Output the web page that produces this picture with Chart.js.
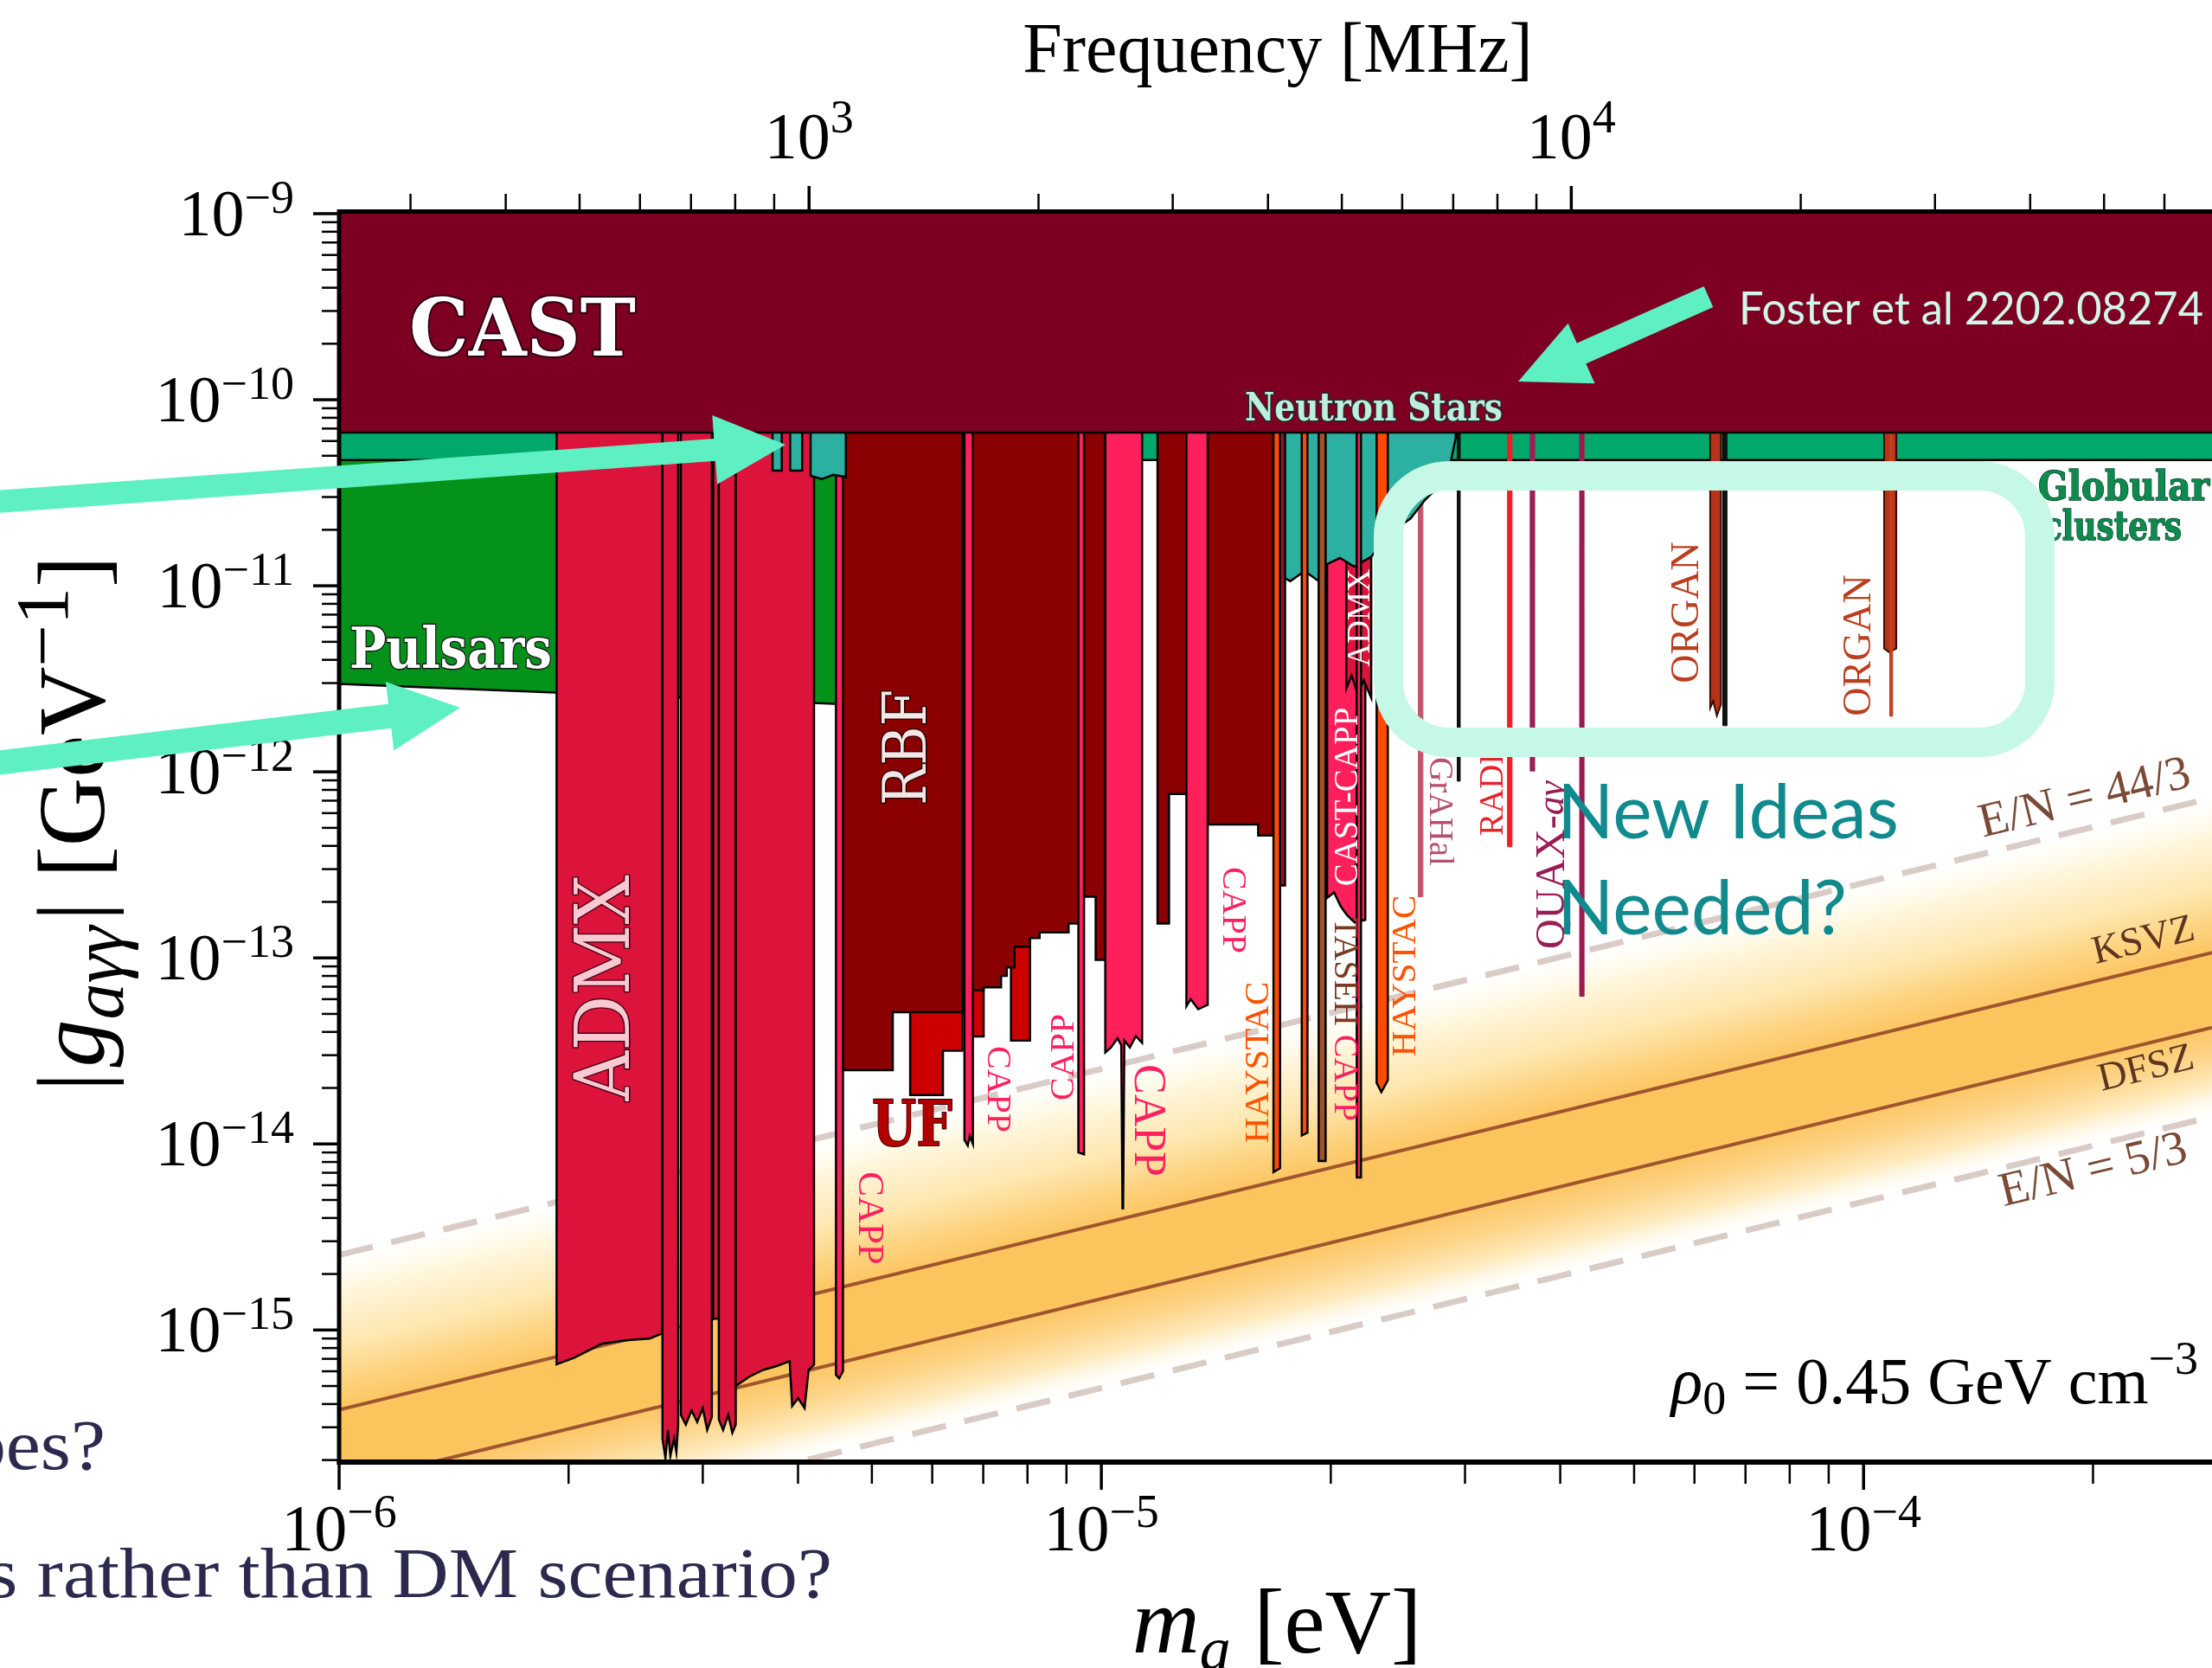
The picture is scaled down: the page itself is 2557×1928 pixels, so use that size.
<!DOCTYPE html>
<html>
<head>
<meta charset="utf-8">
<script src="https://cdn.jsdelivr.net/npm/chart.js@4.4.1/dist/chart.umd.min.js"></script>
<style>
  html, body { margin: 0; padding: 0; background: #fff; overflow: hidden; }
  #wrap { width: 2557px; height: 1928px; position: relative; }
</style>
</head>
<body>
<div id="wrap"><canvas id="limits" width="2557" height="1928"></canvas></div>
<script>
// axis ranges and ticks
const TOP = 1e-9;
const massRange = [1e-6, 2.865e-4];          // eV
const couplingRange = [1.95e-16, 1e-9];      // GeV^-1
const mhzPerEV = 2.418e8;                    // frequency axis conversion
const massTicks = [1e-6, 1e-5, 1e-4];
const massExp = ['\u22126', '\u22125', '\u22124'];
const couplingTicks = [1e-9, 1e-10, 1e-11, 1e-12, 1e-13, 1e-14, 1e-15];
const couplingExp = ['\u22129', '\u221210', '\u221211', '\u221212', '\u221213', '\u221214', '\u221215'];
const freqTicks = [1e3, 1e4];
const freqExp = ['3', '4'];

// QCD axion model lines [mass, coupling]
const ksvzLine = [[1e-6, 3.72e-16], [2.865e-4, 1.067e-13]];
const dfszLine = [[1e-6, 1.47e-16], [2.865e-4, 4.22e-14]];
const en443Line = [[1e-6, 2.53e-15], [2.865e-4, 7.24e-13]];
const en53Line = [[1e-6, 4.88e-17], [2.865e-4, 1.40e-14]];

// astrophysical bounds
const castLimit = [[1e-6, 6.67e-11], [2.865e-4, 6.67e-11]];
const globularLimit = [[1e-6, 4.74e-11], [2.865e-4, 4.74e-11]];
const pulsarLimit = [[1e-6, 2.97e-12], [4.6e-6, 2.31e-12]];

// ADMX
const admxA = [[1.929e-6, 6.55e-16], [2.035e-6, 7.10e-16], [2.21e-6, 8.43e-16], [2.376e-6, 8.81e-16], [2.555e-6, 9.0e-16], [2.656e-6, 9.59e-16]];
const admxB = [[2.656e-6, 2.6e-16], [2.68e-6, 2.05e-16], [2.70e-6, 2.9e-16], [2.72e-6, 2.1e-16], [2.75e-6, 2.6e-16], [2.77e-6, 2.2e-16], [2.785e-6, 3.1e-16]];
const admxC = [[2.808e-6, 3.5e-16], [2.85e-6, 3.1e-16], [2.9e-6, 3.7e-16], [2.95e-6, 3.2e-16], [3.0e-6, 3.8e-16], [3.04e-6, 2.9e-16], [3.083e-6, 3.4e-16]];
const admxD = [[3.096e-6, 1.15e-15], [3.149e-6, 1.15e-15]];
const admxE = [[3.149e-6, 3.3e-16], [3.19e-6, 2.9e-16], [3.24e-6, 3.5e-16], [3.28e-6, 2.8e-16], [3.314e-6, 3.1e-16]];
const admxF = [[3.314e-6, 5.0e-16], [3.45e-6, 5.6e-16], [3.6e-6, 6.1e-16], [3.75e-6, 6.4e-16], [3.9e-6, 6.8e-16], [3.93e-6, 3.9e-16], [4.0e-6, 4.3e-16], [4.08e-6, 3.8e-16], [4.13e-6, 6.1e-16], [4.198e-6, 6.5e-16]];
const admxHigh = [[2.096e-5, 2.8e-12], [2.13e-5, 3.3e-12], [2.17e-5, 2.6e-12], [2.21e-5, 3.1e-12], [2.26e-5, 2.5e-12]];

// RBF and UF, as [m_start, m_end, g] steps
const rbfA = [[4.582e-6, 5.326e-6, 2.49e-14], [5.326e-6, 6.571e-6, 5.11e-14]];
const rbfB = [[6.784e-6, 7.008e-6, 6.71e-14], [7.008e-6, 7.387e-6, 6.95e-14], [7.387e-6, 7.514e-6, 8.0e-14], [7.514e-6, 7.692e-6, 8.88e-14],
              [7.692e-6, 8.062e-6, 1.15e-13], [8.062e-6, 8.299e-6, 1.28e-13], [8.299e-6, 9.058e-6, 1.37e-13], [9.058e-6, 9.328e-6, 1.53e-13]];
const rbfC = [[9.493e-6, 9.83e-6, 2.13e-13], [9.83e-6, 1.012e-5, 9.77e-14]];
const rbfD = [[1.185e-5, 1.227e-5, 1.53e-13], [1.227e-5, 1.293e-5, 7.61e-13]];
const rbfE = [[1.379e-5, 1.606e-5, 5.22e-13], [1.606e-5, 1.682e-5, 4.55e-13]];
const rbfF = [[1.716e-5, 1.742e-5, 2.45e-13]];
const ufA = [[5.613e-6, 6.197e-6, 1.83e-14], [6.197e-6, 6.571e-6, 3.17e-14]];
const ufB = [[6.784e-6, 7.008e-6, 3.78e-14]];
const ufC = [[7.611e-6, 8.062e-6, 3.6e-14]];

// CAPP
const cappA = [[4.486e-6, 5.74e-16], [4.53e-6, 5.5e-16], [4.582e-6, 6.0e-16]];
const cappB = [[6.613e-6, 1.05e-14], [6.68e-6, 9.8e-15], [6.72e-6, 1.1e-14], [6.784e-6, 1.0e-14]];
const cappC = [[9.33e-6, 9.0e-15], [9.49e-6, 8.8e-15]];
const cappD = [[1.012e-5, 3.1e-14], [1.03e-5, 3.3e-14], [1.05e-5, 3.7e-14], [1.062e-5, 3.4e-14], [1.066e-5, 4.5e-15], [1.068e-5, 4.5e-15],
               [1.072e-5, 3.6e-14], [1.09e-5, 3.3e-14], [1.11e-5, 3.8e-14], [1.131e-5, 3.5e-14]];
const cappE = [[1.293e-5, 5.5e-14], [1.31e-5, 6.0e-14], [1.34e-5, 5.3e-14], [1.379e-5, 5.6e-14]];
const castCapp = [[1.978e-5, 2.1e-13], [2.02e-5, 2.25e-13], [2.06e-5, 1.9e-13], [2.1e-5, 1.7e-13], [2.15e-5, 1.55e-13], [2.22e-5, 1.6e-13]];
const cappLine = [[2.163e-5, 6.6e-15], [2.191e-5, 6.6e-15]];

// HAYSTAC, TASEH
const haystacA = [[1.682e-5, 7.05e-15], [1.716e-5, 7.4e-15]];
const haystacB = [[1.832e-5, 1.11e-14], [1.864e-5, 1.15e-14]];
const haystacC = [[2.297e-5, 2.13e-14], [2.33e-5, 1.9e-14], [2.376e-5, 2.2e-14]];
const tasehLimit = [[1.928e-5, 8.1e-15], [1.969e-5, 8.1e-15]];

// neutron stars (Foster et al)
const nsA = [[3.704e-6, 4.16e-11], [3.808e-6, 4.16e-11]];
const nsB = [[3.906e-6, 4.16e-11], [4.05e-6, 4.16e-11]];
const nsC = [[4.155e-6, 3.9e-11], [4.3e-6, 3.75e-11], [4.45e-6, 3.95e-11], [4.622e-6, 3.85e-11]];
const nsD = [[1.711e-5, 1.14e-11], [1.77e-5, 1.06e-11], [1.848e-5, 1.20e-11], [1.928e-5, 1.06e-11], [1.978e-5, 1.31e-11], [2.056e-5, 1.41e-11],
             [2.146e-5, 1.27e-11], [2.259e-5, 1.43e-11], [2.337e-5, 1.71e-11], [2.438e-5, 2.03e-11], [2.545e-5, 2.30e-11],
             [2.656e-5, 2.88e-11], [2.771e-5, 3.43e-11], [2.855e-5, 4.09e-11], [2.917e-5, 6.22e-11]];

// high-mass narrow scans
const grahalLimit = [[2.606e-5, 2.13e-13], [2.642e-5, 2.13e-13]];
const darkLine = [[2.932e-5, 8.91e-13], [2.957e-5, 8.91e-13]];
const radesLimit = [[3.414e-5, 3.96e-13], [3.458e-5, 3.96e-13]];
const quaxA = [[3.656e-5, 1.01e-12], [3.703e-5, 1.01e-12]];
const quaxB = [[4.245e-5, 6.22e-14], [4.299e-5, 6.22e-14]];
const organA = [[6.292e-5, 2.2e-12], [6.35e-5, 2.4e-12], [6.42e-5, 2.0e-12], [6.50e-5, 2.3e-12]];
const organALine = [[6.54e-5, 1.77e-12], [6.62e-5, 1.77e-12]];
const organB = [[1.064e-4, 4.6e-12], [1.08e-4, 4.4e-12], [1.104e-4, 4.6e-12]];
const organBLine = [[1.083e-4, 1.99e-12], [1.092e-4, 1.99e-12]];

const toXY = a => a.map(([x, y]) => ({ x, y }));
const closeToTop = a => [[a[0][0], TOP], ...a, [a[a.length - 1][0], TOP]];
const steps = s => s.flatMap(([x0, x1, g]) => [[x0, g], [x1, g]]);

const layers = [];
function addRegion(points, fill, edge, width) {
  layers.push({
    data: toXY(closeToTop(points)),
    backgroundColor: fill,
    borderColor: edge || '#000',
    borderWidth: width == null ? 2.5 : width,
    fill: 'end'
  });
}
function addBound(points, fill) {
  layers.push({ data: toXY(points), backgroundColor: fill, borderColor: '#000', borderWidth: 2.5, fill: 'end' });
}
function addLine(points, color, width, dash) {
  layers.push({ data: toXY(points), borderColor: color, borderWidth: width, borderDash: dash || [], fill: false });
}

// orange QCD band, gradient across the band
function bandFill(context) {
  const chart = context.chart;
  const { ctx, chartArea, scales } = chart;
  if (!chartArea) return 'rgba(252,196,92,0.6)';
  const ax = scales.x.getPixelForValue(en443Line[0][0]), ay = scales.y.getPixelForValue(en443Line[0][1]);
  const bx = scales.x.getPixelForValue(en443Line[1][0]), by = scales.y.getPixelForValue(en443Line[1][1]);
  const s = (by - ay) / (bx - ax);
  const d = scales.y.getPixelForValue(en53Line[0][1]) - ay;
  const norm = Math.sqrt(1 + s * s);
  const dist = d / norm;
  const g = ctx.createLinearGradient(ax, ay, ax + (-s / norm) * dist, ay + (1 / norm) * dist);
  g.addColorStop(0, 'rgba(255,250,235,0)');
  g.addColorStop(0.12, '#fff6dc');
  g.addColorStop(0.28, '#fee7b0');
  g.addColorStop(0.40, '#fdd27e');
  g.addColorStop(0.50, '#fcc45d');
  g.addColorStop(0.70, '#fcc45d');
  g.addColorStop(0.80, '#fdd386');
  g.addColorStop(0.90, '#ffebbf');
  g.addColorStop(1, 'rgba(255,252,240,0)');
  return g;
}

layers.push({ data: toXY(en443Line), borderWidth: 0, borderColor: 'rgba(0,0,0,0)', backgroundColor: bandFill, fill: '+1' });
layers.push({ data: toXY(en53Line), borderWidth: 0, borderColor: 'rgba(0,0,0,0)', fill: false });
addLine(en443Line, '#d9cbc5', 7, [40, 22]);
addLine(en53Line, '#d9cbc5', 7, [40, 22]);
addLine(ksvzLine, '#a0552e', 4);
addLine(dfszLine, '#a0552e', 4);

addRegion(pulsarLimit, '#04921b');
addBound(globularLimit, '#00a86b');

[ufA, ufB, ufC].forEach(s => addRegion(steps(s), '#cc0000'));
[rbfA, rbfB, rbfC, rbfD, rbfE].forEach(s => addRegion(steps(s), '#8b0000'));
[admxA, admxB, admxC, admxD, admxE, admxF].forEach(p => addRegion(p, '#dc143c'));
[cappA, cappB, cappC, cappD, cappE, castCapp].forEach(p => addRegion(p, '#ff1f5b'));
addRegion(admxHigh, '#dc143c');
addRegion(grahalLimit, '#c0566f', '#c0566f', 1);
[nsA, nsB, nsC, nsD].forEach(p => addRegion(p, '#2bb0a1'));
addRegion(cappLine, '#ff1f5b');
addRegion(tasehLimit, '#a0522d');
addRegion(steps(rbfF), '#a0102a');
[haystacA, haystacB, haystacC].forEach(p => addRegion(p, '#ff4a00'));
addRegion(darkLine, '#111', '#111', 1);
addRegion(radesLimit, '#ea2228', '#ea2228', 1);
addRegion(quaxA, '#9b2058', '#9b2058', 1);
addRegion(quaxB, '#9b1a50', '#9b1a50', 1);
addRegion(organA, '#b5331a', '#3a0a00', 2);
addRegion(organALine, '#111', '#111', 1);
addRegion(organB, '#b5331a', '#3a0a00', 2);
addRegion(organBLine, '#c0401f', '#c0401f', 1);
addBound(castLimit, '#7d0023');

layers.forEach((d, i) => { d.order = layers.length - i; });

// text helpers
function label(ctx, text, x, y, o) {
  ctx.save();
  ctx.translate(x, y);
  if (o.rot) ctx.rotate(o.rot * Math.PI / 180);
  if (o.sx) ctx.scale(o.sx, 1);
  ctx.font = o.font;
  ctx.textAlign = o.align || 'center';
  ctx.textBaseline = o.base || 'middle';
  if (o.stroke) {
    ctx.lineWidth = o.sw || 3;
    ctx.strokeStyle = o.stroke;
    ctx.lineJoin = 'round';
    if (o.max) ctx.strokeText(text, 0, 0, o.max); else ctx.strokeText(text, 0, 0);
  }
  ctx.fillStyle = o.color;
  if (o.max) ctx.fillText(text, 0, 0, o.max); else ctx.fillText(text, 0, 0);
  ctx.restore();
}

function runs(ctx, parts, x, y, o) {
  ctx.save();
  ctx.translate(x, y);
  if (o.rot) ctx.rotate(o.rot * Math.PI / 180);
  ctx.textAlign = 'left';
  ctx.textBaseline = o.base || 'alphabetic';
  const widths = parts.map(p => { ctx.font = p.font; return ctx.measureText(p.t).width + (p.gap || 0); });
  const total = widths.reduce((a, b) => a + b, 0);
  let cx = o.align === 'right' ? -total : o.align === 'left' ? 0 : -total / 2;
  parts.forEach((p, i) => {
    ctx.font = p.font;
    ctx.fillStyle = p.color || o.color;
    ctx.fillText(p.t, cx, p.dy || 0);
    cx += widths[i];
  });
  ctx.restore();
}

function arrow(ctx, x0, y0, x1, y1, w, hl, hw, color) {
  const dx = x1 - x0, dy = y1 - y0, L = Math.hypot(dx, dy), ux = dx / L, uy = dy / L;
  const bx = x1 - ux * hl, by = y1 - uy * hl;
  ctx.save();
  ctx.strokeStyle = color; ctx.fillStyle = color; ctx.lineWidth = w; ctx.lineCap = 'butt';
  ctx.beginPath(); ctx.moveTo(x0, y0); ctx.lineTo(bx + ux * 4, by + uy * 4); ctx.stroke();
  ctx.beginPath(); ctx.moveTo(x1, y1);
  ctx.lineTo(bx - uy * hw, by + ux * hw);
  ctx.lineTo(bx + uy * hw, by - ux * hw);
  ctx.closePath(); ctx.fill();
  ctx.restore();
}

const SERIF = '"Liberation Serif", "DejaVu Serif", serif';
const SLAB = '"DejaVu Serif", serif';

function drawPlotLabels(chart) {
  const { ctx, scales } = chart;
  label(ctx, 'CAST', 473, 411, { font: 'bold 92px ' + SLAB, color: '#fff', align: 'left', base: 'alphabetic', max: 262, stroke: '#2a0010', sw: 4 });
  label(ctx, 'Neutron Stars', 1588, 486, { font: 'bold 44px ' + SLAB, color: '#bdeede', base: 'alphabetic', max: 298, stroke: '#1b2f2a', sw: 3 });
  label(ctx, 'Pulsars', 404, 772, { font: 'bold 66px ' + SLAB, color: '#fff', align: 'left', base: 'alphabetic', max: 234, stroke: '#1a1a1a', sw: 3 });
  label(ctx, 'Globular', 2356, 578, { font: 'bold 46px ' + SLAB, color: '#0f8a4f', align: 'left', base: 'alphabetic', max: 198, stroke: '#064428', sw: 1.5 });
  label(ctx, 'clusters', 2362, 624, { font: 'bold 46px ' + SLAB, color: '#0f8a4f', align: 'left', base: 'alphabetic', max: 160, stroke: '#064428', sw: 1.5 });
  label(ctx, 'ADMX', 704, 1142, { font: '88px ' + SLAB, color: '#f8c9d3', rot: -90, max: 261, stroke: '#4a0010', sw: 3 });
  label(ctx, 'RBF', 1052, 864, { font: '70px ' + SLAB, color: '#f3e6e6', rot: -90, max: 134, stroke: '#2a0000', sw: 3 });
  label(ctx, 'UF', 1008, 1324, { font: 'bold 72px ' + SLAB, color: '#b30000', align: 'left', base: 'alphabetic', max: 93, stroke: '#3a0000', sw: 2 });

  const pink = '#ff2060', orange = '#ff5200';
  label(ctx, 'CAPP', 1004, 1408, { font: '43px ' + SERIF, color: pink, rot: 90 });
  label(ctx, 'CAPP', 1152, 1259, { font: '40px ' + SERIF, color: pink, rot: 90 });
  label(ctx, 'CAPP', 1230, 1222, { font: '40px ' + SERIF, color: pink, rot: -90 });
  label(ctx, 'CAPP', 1326, 1295, { font: '52px ' + SERIF, color: pink, rot: 90 });
  label(ctx, 'CAPP', 1424, 1052, { font: '40px ' + SERIF, color: pink, rot: 90 });
  label(ctx, 'HAYSTAC', 1455, 1228, { font: '41px ' + SERIF, color: orange, rot: -90 });
  label(ctx, 'HAYSTAC', 1625, 1128, { font: '41px ' + SERIF, color: orange, rot: -90 });
  runs(ctx, [{ t: 'TASEH ', font: '40px ' + SERIF, color: '#7a3a22' }, { t: 'CAPP', font: '40px ' + SERIF, color: pink }],
       1553, 1178, { rot: 90, base: 'middle' });
  label(ctx, 'CAST-CAPP', 1559, 921, { font: '39px ' + SERIF, color: '#fff', rot: -90 });
  label(ctx, 'ADMX', 1573, 714, { font: '37px ' + SERIF, color: '#fff', rot: -90 });
  label(ctx, 'GrAHal', 1663, 938, { font: '39px ' + SERIF, color: '#b5506b', rot: 90 });
  ctx.save();
  ctx.beginPath(); ctx.rect(1690, 876, 80, 120); ctx.clip();
  label(ctx, 'RADES', 1727, 966, { font: '39px ' + SERIF, color: '#e8222a', rot: -90, align: 'left' });
  ctx.restore();
  runs(ctx, [{ t: 'QUAX-', font: '48px ' + SERIF }, { t: 'a\u03b3', font: 'italic 44px ' + SERIF }],
       1795, 1000, { rot: -90, base: 'middle', color: '#9a1c55' });
  label(ctx, 'ORGAN', 1951, 708, { font: '46px ' + SERIF, color: '#bb3e1e', rot: -90 });
  label(ctx, 'ORGAN', 2150, 746, { font: '46px ' + SERIF, color: '#bb3e1e', rot: -90 });

  // model line labels follow the line slope
  const px0 = scales.x.getPixelForValue(ksvzLine[0][0]), py0 = scales.y.getPixelForValue(ksvzLine[0][1]);
  const px1 = scales.x.getPixelForValue(ksvzLine[1][0]), py1 = scales.y.getPixelForValue(ksvzLine[1][1]);
  const ang = Math.atan2(py1 - py0, px1 - px0) * 180 / Math.PI;
  label(ctx, 'E/N = 44/3', 2410, 924, { font: '56px ' + SERIF, color: '#7a4a35', rot: ang });
  label(ctx, 'KSVZ', 2478, 1088, { font: '46px ' + SERIF, color: '#5e3520', rot: ang });
  label(ctx, 'DFSZ', 2481, 1236, { font: '46px ' + SERIF, color: '#5e3520', rot: ang });
  label(ctx, 'E/N = 5/3', 2420, 1354, { font: '56px ' + SERIF, color: '#7a4a35', rot: ang });

  runs(ctx, [
    { t: '\u03c1', font: 'italic 76px ' + SERIF },
    { t: '0', font: '54px ' + SERIF, dy: 12 },
    { t: ' = 0.45 GeV cm', font: '76px ' + SERIF },
    { t: '\u22123', font: '54px ' + SERIF, dy: -34 }
  ], 2541, 1622, { align: 'right', color: '#000' });
}

function drawAxes(chart) {
  const { ctx, chartArea: a, scales } = chart;
  ctx.save();
  ctx.strokeStyle = '#000';
  ctx.lineCap = 'butt';
  // mass axis ticks
  for (let e = -6; e <= -4; e++) for (let k = 1; k <= 9; k++) {
    const v = k * Math.pow(10, e);
    if (v < massRange[0] * 0.999 || v > massRange[1]) continue;
    const px = scales.x.getPixelForValue(v);
    ctx.lineWidth = k === 1 ? 3.5 : 2.5;
    ctx.beginPath(); ctx.moveTo(px, a.bottom); ctx.lineTo(px, a.bottom + (k === 1 ? 32 : 25)); ctx.stroke();
  }
  // frequency axis ticks
  const xf = scales.xf;
  for (let e = 2; e <= 4; e++) for (let k = 1; k <= 9; k++) {
    const v = k * Math.pow(10, e);
    if (v < xf.min || v > xf.max) continue;
    const px = xf.getPixelForValue(v);
    ctx.lineWidth = k === 1 ? 3.5 : 2.5;
    ctx.beginPath(); ctx.moveTo(px, a.top); ctx.lineTo(px, a.top - (k === 1 ? 32 : 23)); ctx.stroke();
  }
  // coupling axis ticks
  for (let e = -16; e <= -9; e++) for (let k = 1; k <= 9; k++) {
    const v = k * Math.pow(10, e);
    if (v < couplingRange[0] || v > couplingRange[1] * 1.001) continue;
    const py = scales.y.getPixelForValue(v);
    ctx.lineWidth = k === 1 ? 3.5 : 2.5;
    ctx.beginPath(); ctx.moveTo(a.left, py); ctx.lineTo(a.left - (k === 1 ? 30 : 20), py); ctx.stroke();
  }
  // frame
  ctx.lineWidth = 5;
  ctx.beginPath(); ctx.moveTo(a.left, a.bottom + 3); ctx.lineTo(a.left, a.top - 2.5); ctx.lineTo(a.right + 5, a.top - 2.5); ctx.stroke();
  ctx.lineWidth = 6;
  ctx.beginPath(); ctx.moveTo(a.left - 2.5, a.bottom); ctx.lineTo(a.right + 5, a.bottom); ctx.stroke();
  ctx.restore();

  const big = '76px ' + SERIF, sup = '54px ' + SERIF;
  massTicks.forEach((v, i) => {
    runs(ctx, [{ t: '10', font: big }, { t: massExp[i], font: sup, dy: -27 }], scales.x.getPixelForValue(v), 1792, { color: '#000' });
  });
  freqTicks.forEach((v, i) => {
    runs(ctx, [{ t: '10', font: big }, { t: freqExp[i], font: sup, dy: -30 }], xf.getPixelForValue(v), 183, { color: '#000' });
  });
  couplingTicks.forEach((v, i) => {
    const py = scales.y.getPixelForValue(v);
    runs(ctx, [{ t: '10', font: big }, { t: couplingExp[i], font: sup, dy: -26 }], 340, py + 25, { align: 'right', color: '#000' });
  });

  label(ctx, 'Frequency [MHz]', 1477, 83, { font: '82px ' + SERIF, color: '#000', base: 'alphabetic' });
  runs(ctx, [
    { t: 'm', font: 'italic 108px ' + SERIF },
    { t: 'a', font: 'italic 72px ' + SERIF, dy: 20 },
    { t: ' [eV]', font: '106px ' + SERIF }
  ], 1476, 1910, { color: '#000' });
  runs(ctx, [
    { t: '|', font: '110px ' + SERIF, gap: 6 },
    { t: 'g', font: 'italic 110px ' + SERIF },
    { t: 'a\u03b3\u03b3', font: 'italic 84px ' + SERIF, dy: 22, gap: 6 },
    { t: '|', font: '110px ' + SERIF },
    { t: ' [GeV', font: '110px ' + SERIF },
    { t: '\u22121', font: '86px ' + SERIF, dy: -42 },
    { t: ']', font: '110px ' + SERIF }
  ], 120, 952, { rot: -90, color: '#000' });
}

function drawSlide(chart) {
  const { ctx } = chart;
  label(ctx, 'bes?', 122, 1698, { font: '82px ' + SERIF, color: '#2b2a4e', align: 'right', base: 'alphabetic', sx: 1.1 });
  label(ctx, 's rather than DM scenario?', 962, 1846, { font: '82px ' + SERIF, color: '#2b2a4e', align: 'right', base: 'alphabetic', sx: 1.1 });

  ctx.save();
  ctx.strokeStyle = '#c5f8e6';
  ctx.lineWidth = 34;
  ctx.beginPath();
  ctx.roundRect(1605, 550, 753, 308, 70);
  ctx.stroke();
  ctx.restore();

  label(ctx, 'New Ideas', 1800, 969, { font: '88px Lato, "Open Sans", sans-serif', color: '#118a8e', align: 'left', base: 'alphabetic', max: 395 });
  label(ctx, 'Needed?', 1800, 1080, { font: '88px Lato, "Open Sans", sans-serif', color: '#118a8e', align: 'left', base: 'alphabetic', max: 335 });
  label(ctx, 'Foster et al 2202.08274', 2010, 375, { font: '53px Lato, "Open Sans", sans-serif', color: '#d0f7ea', align: 'left', base: 'alphabetic', max: 537 });

  const mint = '#5ef0c2';
  arrow(ctx, -5, 580, 908, 514, 26, 82, 40, mint);
  arrow(ctx, -5, 882, 532, 818, 28, 82, 40, mint);
  arrow(ctx, 1975, 343, 1755, 441, 26, 80, 38, mint);
}

const overlay = {
  id: 'overlay',
  afterDraw(chart) {
    drawPlotLabels(chart);
    drawAxes(chart);
    drawSlide(chart);
  }
};

new Chart(document.getElementById('limits').getContext('2d'), {
  type: 'line',
  data: { datasets: layers },
  options: {
    responsive: false,
    animation: false,
    devicePixelRatio: 1,
    layout: { padding: { left: 392, top: 247, right: 0, bottom: 238 } },
    elements: { point: { radius: 0, hoverRadius: 0 }, line: { tension: 0 } },
    plugins: { legend: { display: false }, tooltip: { enabled: false } },
    events: [],
    scales: {
      x: { type: 'logarithmic', min: massRange[0], max: massRange[1], display: false },
      y: { type: 'logarithmic', min: couplingRange[0], max: couplingRange[1], display: false },
      xf: { type: 'logarithmic', axis: 'x', position: 'top', min: massRange[0] * mhzPerEV, max: massRange[1] * mhzPerEV, display: false }
    }
  },
  plugins: [overlay]
});
</script>
</body>
</html>
